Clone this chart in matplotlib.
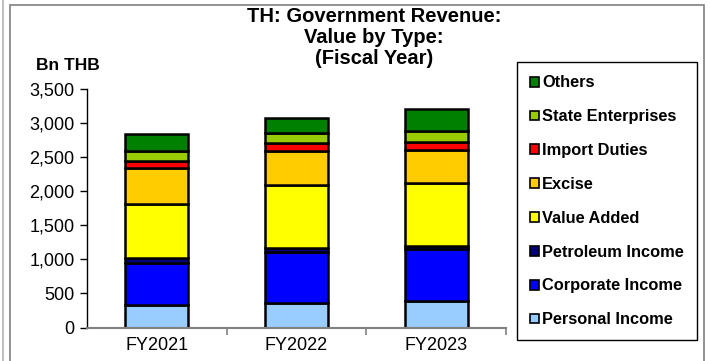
import numpy as np
import matplotlib.pyplot as plt
from matplotlib.patches import Rectangle
from matplotlib.lines import Line2D

plt.rcParams['font.family'] = ['Liberation Sans', 'DejaVu Sans']

# data (Bn THB)
years = ["FY2021", "FY2022", "FY2023"]
personal_income = [326, 365, 390]
corporate_income = [627, 740, 764]
petroleum_income = [64, 59, 44]
value_added = [794, 931, 931]
excise = [529, 504, 480]
import_duties = [108, 109, 122]
state_enterprises = [151, 147, 162]
others = [241, 229, 319]

series_names = ["Personal Income", "Corporate Income", "Petroleum Income",
                "Value Added", "Excise", "Import Duties",
                "State Enterprises", "Others"]
series_colours = ["#99CCFF", "#0000FF", "#000080", "#FFFF00",
                  "#FFCC00", "#FF0000", "#99CC00", "#008000"]
y_ticks = [0, 500, 1000, 1500, 2000, 2500, 3000, 3500]
title_lines = ["TH: Government Revenue:", "Value by Type:", "(Fiscal Year)"]

W, H = 710, 361


def main():
    fig = plt.figure(figsize=(W / 100, H / 100), dpi=100)
    ax = fig.add_axes([87 / W, 1 - 327.5 / H, (506 - 87) / W, (327.5 - 89.3) / H])

    all_series = [personal_income, corporate_income, petroleum_income, value_added,
                  excise, import_duties, state_enterprises, others]
    x = np.arange(len(years))
    bottom = np.zeros(len(years))
    handles = []
    for name, vals, col in zip(series_names, all_series, series_colours):
        bars = ax.bar(x, vals, width=0.45, bottom=bottom, color=col,
                      edgecolor="black", linewidth=1.8, label=name)
        bottom += np.array(vals)
        handles.append(bars)

    ax.set_xlim(-0.5, len(years) - 0.5)
    ax.set_ylim(0, 3500)
    ax.set_yticks(y_ticks)
    ax.set_yticklabels(["{:,}".format(v) for v in y_ticks], fontsize=13)
    ax.set_xticks(x)
    ax.set_xticklabels(years, fontsize=13)
    ax.tick_params(axis="x", length=0, pad=7)
    ax.set_xticks([0.5, 1.5, 2.5], minor=True)
    ax.tick_params(axis="x", which="minor", length=5, color="#808080", width=1.2)
    ax.tick_params(axis="y", length=5, width=1, pad=4)
    for side in ["top", "right"]:
        ax.spines[side].set_visible(False)
    ax.spines["left"].set_linewidth(1)
    ax.spines["bottom"].set_color("#808080")
    ax.spines["bottom"].set_linewidth(1.5)

    # title and unit
    for i, line in enumerate(title_lines):
        fig.text(374 / W, 1 - (17 + 20.5 * i) / H, line, ha="center", va="center",
                 fontsize=14.5, fontweight="bold")
    fig.text(68 / W, 1 - 65 / H, "Bn THB", ha="center", va="center",
             fontsize=12.5, fontweight="bold")

    leg = fig.legend(handles[::-1], series_names[::-1], loc="upper left",
                     bbox_to_anchor=(516.7 / W, 1 - 62.3 / H),
                     prop={"weight": "bold", "size": 11.8},
                     fancybox=False, edgecolor="black", framealpha=1,
                     handlelength=0.55, handleheight=0.55, handletextpad=0.2,
                     labelspacing=1.15, borderpad=0.8, borderaxespad=0)
    leg.get_frame().set_linewidth(1)
    for patch in leg.get_patches():
        patch.set_linewidth(1.2)

    # outer chart frame
    fig.patches.append(Rectangle((10 / W, -0.01), (704 - 10) / W, 1 - 5 / H + 0.01,
                                 transform=fig.transFigure, fill=False,
                                 edgecolor="#808080", linewidth=1.2))
    fig.lines.append(Line2D([3 / W, 3 / W], [0, 1], transform=fig.transFigure,
                            color="#c0c0c0", linewidth=1.5))

    fig.savefig("out.png", dpi=100)


if __name__ == "__main__":
    main()
